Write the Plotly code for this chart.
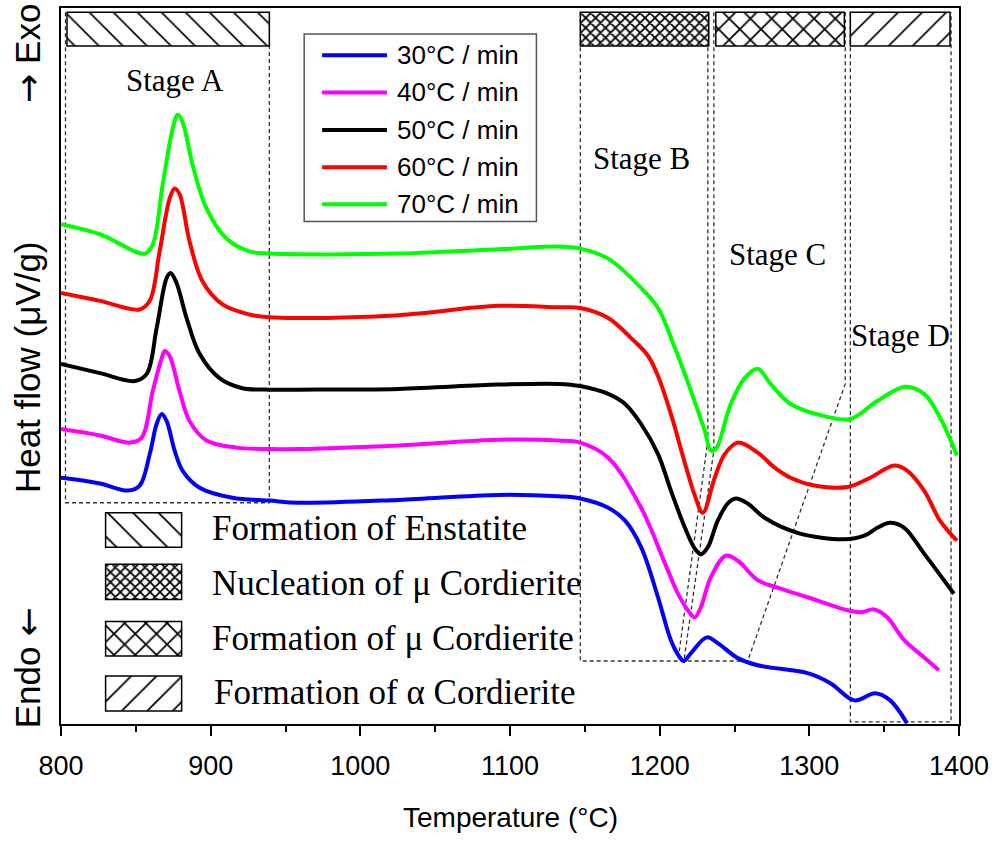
import plotly.graph_objects as go

# ---- DSC heat-flow curves (temperature in °C, heat flow in arbitrary offset units) ----
T30 = [800, 826, 844.6, 852.6, 859.3, 863.9, 867.3, 870.6, 875.9, 881.2, 892.6, 914.5, 939.2, 959.2,
       1025.7, 1092.3, 1132.3, 1146.9, 1165.6, 1176.9, 1187.6, 1198.9, 1207.5, 1213.5, 1216.2, 1220.9,
       1231.5, 1238.8, 1252.2, 1265.5, 1298.8, 1314.1, 1330.1, 1344.0, 1354.0, 1365.3]
HF30 = [34.4, 33.6, 32.6, 33.3, 37.7, 41.9, 43.3, 42.3, 38.2, 35.4, 33.0, 31.6, 31.2, 30.9,
        31.3, 32.0, 31.8, 31.5, 30.2, 28.4, 24.7, 17.7, 11.7, 9.3, 8.8, 9.9,
        12.1, 11.3, 9.2, 8.2, 7.1, 5.7, 3.3, 4.3, 3.3, 0.1]

T40 = [800, 826, 845.9, 853.9, 861.3, 867.3, 869.3, 872.6, 879.2, 885.9, 897.2, 917.2, 939.2, 959.2,
       1025.7, 1092.3, 1132.3, 1146.9, 1165.6, 1187.6, 1203.6, 1212.2, 1220.2, 1223.5, 1227.5, 1234.2,
       1244.2, 1252.2, 1265.5, 1280.8, 1298.8, 1325.4, 1334.1, 1343.4, 1352.0, 1363.4, 1376.7, 1386.6]
HF40 = [41.2, 40.3, 39.3, 40.0, 46.5, 51.1, 52.1, 51.4, 46.5, 42.3, 39.6, 38.6, 38.4, 38.4,
        38.9, 39.7, 39.6, 39.3, 37.2, 30.2, 22.4, 18.2, 15.5, 14.9, 16.3, 20.5,
        23.5, 22.8, 20.1, 18.9, 17.7, 15.9, 15.6, 16.0, 14.9, 11.7, 9.3, 7.5]

T50 = [800, 826, 849.3, 857.3, 863.9, 870.6, 873.2, 877.2, 883.9, 892.6, 905.9, 921.2, 939.2, 959.2,
       1025.7, 1092.3, 1132.3, 1146.9, 1165.6, 1176.9, 1187.6, 1198.9, 1207.5, 1216.9, 1223.5, 1227.5,
       1232.2, 1238.8, 1245.5, 1250.8, 1258.8, 1270.1, 1292.1, 1323.4, 1336.7, 1345.4, 1354.0, 1363.4,
       1376.7, 1396.6]
HF50 = [50.3, 49.0, 47.9, 48.9, 55.3, 62.3, 63.0, 61.6, 56.7, 51.7, 48.3, 46.9, 46.7, 46.7,
        46.8, 47.4, 47.5, 47.2, 46.1, 44.7, 41.9, 37.7, 32.6, 27.4, 24.5, 23.7,
        24.7, 28.4, 30.8, 31.5, 30.8, 28.8, 26.7, 25.8, 26.3, 27.4, 28.1, 27.4,
        23.8, 18.2]

T60 = [800, 826, 852.6, 859.3, 865.9, 872.6, 875.9, 879.2, 885.9, 894.6, 907.9, 925.9, 939.2, 959.2,
       1025.7, 1092.3, 1132.3, 1146.9, 1165.6, 1180.9, 1192.3, 1198.9, 1207.5, 1216.9, 1223.5, 1228.8,
       1236.8, 1243.5, 1252.2, 1265.5, 1276.8, 1287.4, 1303.4, 1325.4, 1340.7, 1356.7, 1365.3, 1376.7,
       1387.3, 1398.6]
HF60 = [60.2, 59.1, 57.9, 59.1, 66.0, 73.4, 74.8, 74.0, 67.4, 61.8, 58.6, 57.2, 56.8, 56.7,
        57.1, 58.4, 58.2, 58.1, 56.7, 53.9, 51.4, 48.6, 43.3, 36.4, 31.9, 29.5,
        34.4, 37.7, 39.3, 37.9, 35.8, 34.4, 33.3, 33.1, 34.4, 36.1, 35.4, 32.6,
        28.4, 25.6]

T70 = [800, 826, 855.9, 861.3, 867.9, 874.6, 877.9, 881.2, 887.9, 897.2, 910.5, 925.9, 939.2, 959.2,
       1025.7, 1092.3, 1132.3, 1146.9, 1165.6, 1187.6, 1198.9, 1210.2, 1220.9, 1230.2, 1234.2, 1237.5,
       1247.5, 1256.8, 1265.5, 1274.1, 1287.4, 1310.1, 1327.4, 1345.4, 1364.0, 1376.7, 1387.3, 1398.6]
HF70 = [69.8, 68.4, 65.7, 67.0, 75.3, 83.1, 85.1, 84.1, 78.1, 72.0, 67.8, 66.0, 65.7, 65.6,
        65.7, 66.3, 66.7, 66.4, 65.0, 60.9, 58.1, 52.5, 46.5, 40.9, 38.2, 38.4,
        44.7, 48.3, 49.6, 47.5, 44.7, 43.0, 42.6, 45.1, 47.1, 46.1, 42.8, 37.5]

RATE_LABELS = ["30°C / min", "40°C / min", "50°C / min", "60°C / min", "70°C / min"]
RATE_COLORS = ["#0000ff", "#ff00ff", "#000000", "#ff0000", "#00ff00"]
SERIES = [(T30, HF30), (T40, HF40), (T50, HF50), (T60, HF60), (T70, HF70)]

# ---- reaction stages (temperature windows) ----
STAGE_NAMES = ["Stage A", "Stage B", "Stage C", "Stage D"]
STAGE_START = [804.0, 1147.0, 1237.5, 1327.4]
STAGE_END = [939.2, 1232.8, 1323.4, 1394.0]
STAGE_LABEL_T = [875.9, 1187.6, 1278.8, 1360.7]
STAGE_LABEL_HF = [89.9, 79.0, 65.6, 54.2]
STAGE_TEXT = ["Formation of Enstatite", "Nucleation of μ Cordierite",
              "Formation of μ Cordierite", "Formation of α Cordierite"]

# hatch styling per stage
HATCH_SHAPE = ["\\", "x", "x", "/"]
HATCH_SIZE = [17, 7, 15, 17]
HATCH_SOLID = [0.1, 0.45, 0.22, 0.1]

W, H = 995, 841
ML, MR, MT, MB = 61, 33, 6, 117
SANS = "Liberation Sans, Arial, sans-serif"
SERIF = "Liberation Serif, Times New Roman, serif"
ARROW = "<span style='font-family:DejaVu Sans'>{}</span>"


def px_x(p):
    return (p - ML) / (W - ML - MR)


def px_y(p):
    return (H - MB - p) / (H - MT - MB)


def hatch(i, size):
    return dict(shape=HATCH_SHAPE[i], size=size, solidity=HATCH_SOLID[i],
                fgcolor="black", fgopacity=1, bgcolor="white", fillmode="replace")


fig = go.Figure()

# dashed guide lines marking the stage windows and peak shifts
dash = dict(color="#333333", width=1.3, dash="4px,3px")
guides = [
    [(803.0, 99.4), (803.0, 30.9), (939.2, 30.9), (939.2, 99.4)],
    [(1147.0, 99.4), (1147.0, 8.8), (1258.8, 8.8)],
    [(1232.2, 99.4), (1232.2, 39.6), (1212.2, 8.8)],
    [(1236.2, 99.4), (1236.2, 38.2), (1216.2, 8.8)],
    [(1324.0, 99.4), (1324.0, 47.5), (1258.8, 8.8)],
    [(1327.4, 99.4), (1327.4, 0.3), (1394.7, 0.3), (1394.7, 99.4)],
]
shapes = []
for g in guides:
    path = "M " + " L ".join(f"{x},{y}" for x, y in g)
    shapes.append(dict(type="path", path=path, xref="x", yref="y", line=dash, layer="below"))

# hatched bars along the top marking each stage
BAR_BOTTOM, BAR_TOP = 94.7, 99.4
for i in range(4):
    fig.add_trace(go.Bar(
        x=[(STAGE_START[i] + STAGE_END[i]) / 2],
        y=[BAR_TOP - BAR_BOTTOM], base=[BAR_BOTTOM],
        width=[STAGE_END[i] - STAGE_START[i]],
        marker=dict(color="white", line=dict(color="black", width=1.5),
                    pattern=hatch(i, HATCH_SIZE[i])),
        showlegend=False, hoverinfo="skip"))

# hatch key boxes with their descriptions
KEY_T0, KEY_T1 = 829.8, 880.6
KEY_LOW = [24.7, 17.4, 9.5, 1.8]
KEY_HIGH = [29.5, 22.3, 14.3, 6.7]
KEY_SIZE = [18, 7, 15, 18]
for i in range(4):
    fig.add_trace(go.Bar(
        x=[(KEY_T0 + KEY_T1) / 2], y=[KEY_HIGH[i] - KEY_LOW[i]], base=[KEY_LOW[i]],
        width=[KEY_T1 - KEY_T0],
        marker=dict(color="white", line=dict(color="black", width=1.5),
                    pattern=hatch(i, KEY_SIZE[i])),
        showlegend=False, hoverinfo="skip"))

# heat-flow curves
for (tx, hf), name, col in zip(SERIES, RATE_LABELS, RATE_COLORS):
    fig.add_trace(go.Scatter(x=tx, y=hf, mode="lines", name=name,
                             line=dict(color=col, width=4, shape="spline", smoothing=1.0),
                             showlegend=False))

annotations = []
# stage labels
for name, tx, hy in zip(STAGE_NAMES, STAGE_LABEL_T, STAGE_LABEL_HF):
    annotations.append(dict(x=tx, y=hy, xref="x", yref="y", text=name, showarrow=False,
                            font=dict(family=SERIF, size=31, color="black")))

# hatch key texts
KEY_TEXT_X = [210, 210, 210, 213]
KEY_TEXT_Y = [528, 583, 638, 692]
for txt, xx, yy in zip(STAGE_TEXT, KEY_TEXT_X, KEY_TEXT_Y):
    annotations.append(dict(x=px_x(xx), y=px_y(yy), xref="paper", yref="paper", text=txt,
                            showarrow=False, xanchor="left", yanchor="middle",
                            font=dict(family=SERIF, size=35, color="black")))

# heating-rate key (box, line samples, labels)
shapes.append(dict(type="rect", xref="paper", yref="paper",
                   x0=px_x(305), x1=px_x(538), y0=px_y(220), y1=px_y(32),
                   line=dict(color="#555555", width=1.5), fillcolor="white", layer="above"))
ROW_Y = [53.3, 90.7, 128.3, 165.7, 202.7]
for name, col, ry in zip(RATE_LABELS, RATE_COLORS, ROW_Y):
    shapes.append(dict(type="line", xref="paper", yref="paper",
                       x0=px_x(323), x1=px_x(388), y0=px_y(ry), y1=px_y(ry),
                       line=dict(color=col, width=4), layer="above"))
    annotations.append(dict(x=px_x(396), y=px_y(ry), xref="paper", yref="paper", text=name,
                            showarrow=False, xanchor="left", yanchor="middle",
                            font=dict(family=SANS, size=26, color="black")))

# axis titles
annotations.append(dict(x=px_x(512), y=px_y(818), xref="paper", yref="paper",
                        text="Temperature (°C)", showarrow=False,
                        xanchor="center", yanchor="middle",
                        font=dict(family=SANS, size=28, color="black")))
for txt, yy in [(ARROW.format("→") + " Exo", 52), ("Heat flow (μV/g)", 366),
                ("Endo " + ARROW.format("←"), 668)]:
    annotations.append(dict(x=px_x(28), y=px_y(yy), xref="paper", yref="paper", text=txt,
                            showarrow=False, textangle=-90, xanchor="center", yanchor="middle",
                            font=dict(family=SANS, size=35, color="black")))

fig.update_layout(
    width=W, height=H,
    margin=dict(l=ML, r=MR, t=MT, b=MB, pad=0),
    paper_bgcolor="white", plot_bgcolor="white",
    barmode="overlay", showlegend=False,
    shapes=shapes, annotations=annotations,
    xaxis=dict(range=[800, 1400], tickmode="linear", tick0=800, dtick=100,
               ticks="outside", ticklen=10, tickwidth=1.5, tickcolor="black",
               minor=dict(ticks="outside", ticklen=6, dtick=50, tickwidth=1.5, tickcolor="black"),
               showline=True, linewidth=2, linecolor="black", mirror=True,
               showgrid=False, zeroline=False, ticklabelstandoff=7,
               tickfont=dict(family=SANS, size=27, color="black")),
    yaxis=dict(range=[0, 100], showticklabels=False, ticks="",
               showline=True, linewidth=2, linecolor="black", mirror=True,
               showgrid=False, zeroline=False),
)

fig.write_html("out.html")
